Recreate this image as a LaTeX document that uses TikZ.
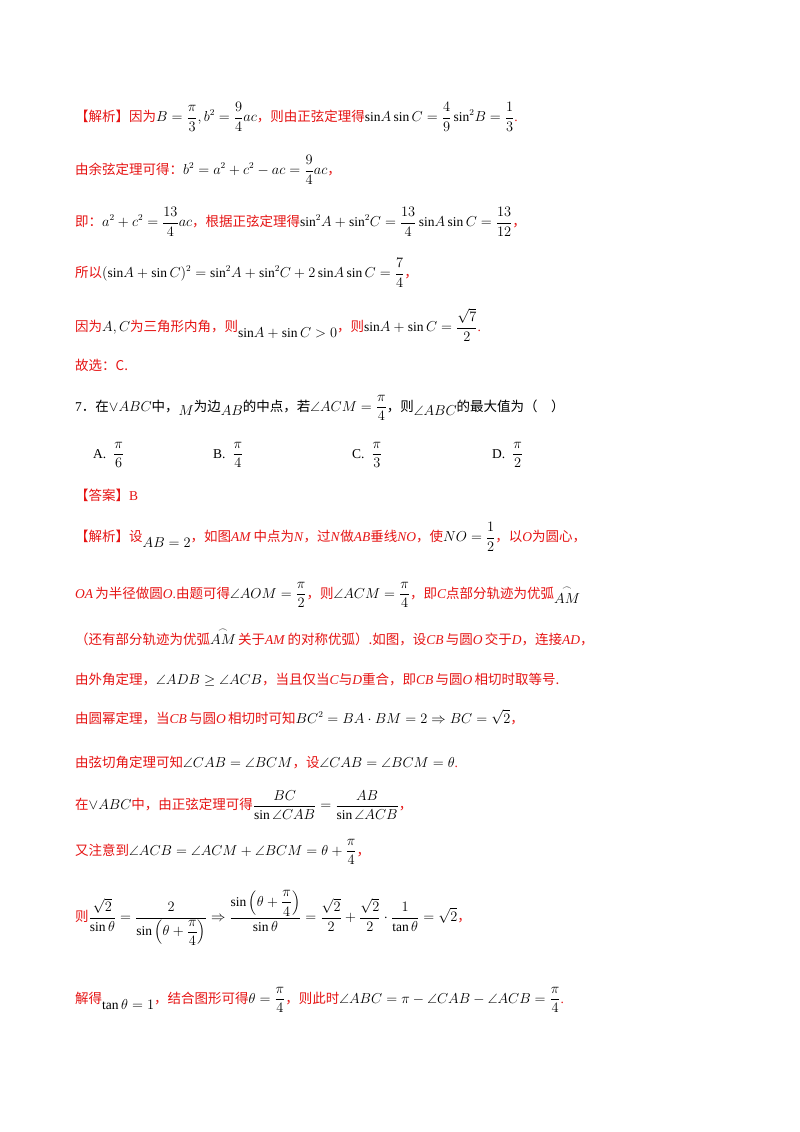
\documentclass[tikz,border=0pt]{standalone}
\usepackage{amsmath,amssymb}
\usepackage{fontspec}
\setmainfont{Liberation Serif}
\newfontfamily\cjk{Noto Sans CJK SC}
\definecolor{rd}{RGB}{230,20,20}
\newcommand{\mb}[1]{{\color{black}$\displaystyle #1$}}
\newcommand{\zh}[1]{{\cjk #1}}
\begin{document}
\begin{tikzpicture}[x=1pt,y=-1pt,
  ln/.style={anchor=west,inner sep=0pt,text=rd,font=\fontsize{13.5}{15}\selectfont},
  bk/.style={anchor=west,inner sep=0pt,text=black,font=\fontsize{13.5}{15}\selectfont}]
\useasboundingbox[fill=white] (0,0) rectangle (800,1132);
\node[ln] (l1) at (75,117) {\zh{【解析】因为}\mb{B=\frac{\pi}{3},b^2=\frac{9}{4}ac}\zh{，则由正弦定理得}\mb{\sin\!A\sin C=\frac{4}{9}\sin^2\!B=\frac{1}{3}}.};
\node[ln] (l2) at (75,170) {\zh{由余弦定理可得：}\mb{b^2=a^2+c^2-ac=\frac{9}{4}ac}\zh{，}};
\node[ln] (l3) at (75,222) {\zh{即：}\mb{a^2+c^2=\frac{13}{4}ac}\zh{，根据正弦定理得}\mb{\sin^2\!A+\sin^2\!C=\frac{13}{4}\sin\!A\sin C=\frac{13}{12}}\zh{，}};
\node[ln] (l4) at (75,273) {\zh{所以}\mb{(\sin\!A+\sin C)^2=\sin^2\!A+\sin^2\!C+2\sin\!A\sin C=\frac{7}{4}}\zh{，}};
\node[ln] (l5) at (75,325) {\zh{因为}\mb{A,C}\zh{为三角形内角，则}\raisebox{-6pt}{\mb{\sin\!A+\sin C>0}}\zh{，则}\mb{\sin\!A+\sin C=\frac{\sqrt7}{2}}.};
\node[ln] (l6) at (75,365) {\zh{故选：C.}};
\node[bk] (q7) at (75,408) {7\zh{．在}\mb{\vee ABC}\zh{中，}\raisebox{-4pt}{$M$}\zh{为边}\raisebox{-4pt}{$AB$}\zh{的中点，若}\mb{\angle ACM=\frac{\pi}{4}}\zh{，则}\raisebox{-4pt}{$\angle ABC$}\zh{的最大值为（\quad）}};
\node[bk] (oa) at (93,455) {A.\ \ \mb{\frac{\pi}{6}}};
\node[bk] (ob) at (213,455) {B.\ \ \mb{\frac{\pi}{4}}};
\node[bk] (oc) at (352,455) {C.\ \ \mb{\frac{\pi}{3}}};
\node[bk] (od) at (492,455) {D.\ \ \mb{\frac{\pi}{2}}};
\node[ln] (ans) at (75,495) {\zh{【答案】}B};
\node[ln] (s1) at (75,537) {\zh{【解析】设}\raisebox{-6pt}{\mb{AB=2}}\zh{，如图}\textit{AM}\,\zh{中点为}\textit{N}\zh{，过}\textit{N}\zh{做}\textit{AB}\zh{垂线}\textit{NO}\zh{，使}\mb{NO=\frac{1}{2}}\zh{，以}\textit{O}\zh{为圆心，}};
\node[ln] (s2) at (75,595) {\textit{OA}\,\zh{为半径做圆}\textit{O}.\zh{由题可得}\mb{\angle AOM=\frac{\pi}{2}}\zh{，则}\mb{\angle ACM=\frac{\pi}{4}}\zh{，即}\textit{C}\zh{点部分轨迹为优弧}\raisebox{-5pt}{\mb{\overset{\frown}{AM}}}};
\node[ln] (s3) at (75,637) {\zh{（还有部分轨迹为优弧}\mb{\overset{\frown}{AM}}\,\zh{关于}\textit{AM}\,\zh{的对称优弧）.如图，设}\textit{CB}\,\zh{与圆}\textit{O}\,\zh{交于}\textit{D}\zh{，连接}\textit{AD}\zh{，}};
\node[ln] (s4) at (75,680) {\zh{由外角定理，}\mb{\angle ADB\ge\angle ACB}\zh{，当且仅当}\textit{C}\zh{与}\textit{D}\zh{重合，即}\textit{CB}\,\zh{与圆}\textit{O}\,\zh{相切时取等号.}};
\node[ln] (s5) at (75,717) {\zh{由圆幂定理，当}\textit{CB}\,\zh{与圆}\textit{O}\,\zh{相切时可知}\mb{BC^2=BA\cdot BM=2\Rightarrow BC=\sqrt2}\zh{，}};
\node[ln] (s6) at (75,762) {\zh{由弦切角定理可知}\mb{\angle CAB=\angle BCM}\zh{，设}\mb{\angle CAB=\angle BCM=\theta}.};
\node[ln] (s7) at (75,805) {\zh{在}\mb{\vee ABC}\zh{中，由正弦定理可得}\mb{\frac{BC}{\sin\angle CAB}=\frac{AB}{\sin\angle ACB}}\zh{，}};
\node[ln] (s8) at (75,852) {\zh{又注意到}\mb{\angle ACB=\angle ACM+\angle BCM=\theta+\frac{\pi}{4}}\zh{，}};
\node[ln] (s9) at (75,918) {\zh{则}\mb{\frac{\sqrt2}{\sin\theta}=\frac{2}{\sin\left(\theta+\dfrac{\pi}{4}\right)}\Rightarrow\frac{\sin\left(\theta+\dfrac{\pi}{4}\right)}{\sin\theta}=\frac{\sqrt2}{2}+\frac{\sqrt2}{2}\cdot\frac{1}{\tan\theta}=\sqrt2}\zh{，}};
\node[ln] (s10) at (75,1000) {\zh{解得}\raisebox{-6pt}{\mb{\tan\theta=1}}\zh{，结合图形可得}\mb{\theta=\frac{\pi}{4}}\zh{，则此时}\mb{\angle ABC=\pi-\angle CAB-\angle ACB=\frac{\pi}{4}}.};
\end{tikzpicture}
\end{document}
